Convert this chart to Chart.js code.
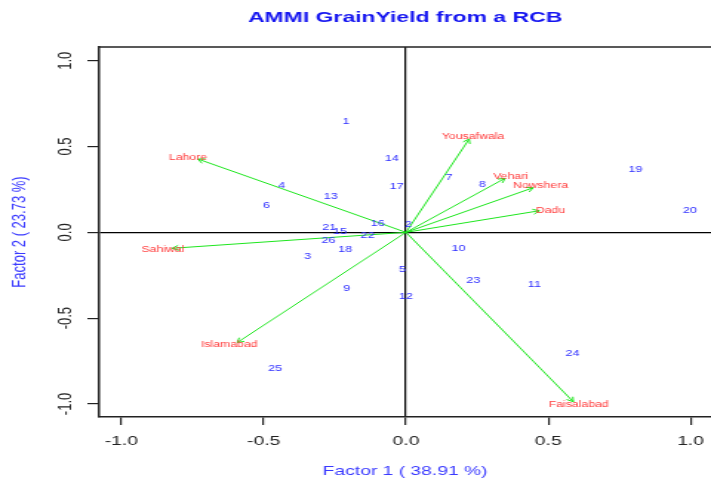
<!DOCTYPE html>
<html><head><meta charset="utf-8">
<script src="https://cdn.jsdelivr.net/npm/chart.js@4/dist/chart.umd.min.js"></script>
<style>html,body{margin:0;padding:0;overflow:hidden;background:#fff}canvas{display:block}</style>
</head><body>
<canvas id="c" width="480" height="480" style="width:711px;height:480px"></canvas>
<script>
// Genotype scores (Factor 1, Factor 2)
const genotypes = ['1','2','3','4','5','6','7','8','9','10','11','12','13','14','15','16','17','18','19','20','21','22','23','24','25','26'];
const genoF1 = [-0.211,0.008,-0.346,-0.437,-0.013,-0.490,0.151,0.268,-0.208,0.184,0.451,0.000,-0.265,-0.050,-0.232,-0.099,-0.033,-0.214,0.807,0.998,-0.270,-0.135,0.237,0.585,-0.460,-0.272];
const genoF2 = [0.648,0.043,-0.142,0.270,-0.216,0.153,0.321,0.280,-0.326,-0.093,-0.305,-0.375,0.207,0.431,0.003,0.052,0.266,-0.103,0.363,0.128,0.029,-0.022,-0.282,-0.705,-0.793,-0.049];
// Environment scores (label positions) and arrow tips
const sites = ['Lahore','Sahiwal','Islamabad','Faisalabad','Yousafwala','Vehari','Nowshera','Dadu'];
const siteF1 = [-0.766,-0.854,-0.621,0.607,0.236,0.368,0.473,0.508];
const siteF2 = [0.433,-0.103,-0.657,-1.006,0.557,0.324,0.270,0.124];
const arrowF1 = [-0.731,-0.822,-0.593,0.588,0.222,0.348,0.447,0.469];
const arrowF2 = [0.427,-0.093,-0.642,-0.987,0.544,0.315,0.260,0.126];
// Ticks
const xTicks = [-1,-0.5,0,0.5,1];
const xTickLabels = ['-1.0','-0.5','0.0','0.5','1.0'];
const yTicks = [-1,-0.5,0,0.5,1];
const yTickLabels = ['-1.0','-0.5','0.0','0.5','1.0'];

const FONT = '"Liberation Sans", Arial, sans-serif';
const AXIS = '#222';
const GREEN = '#1ee61e';
const GENO_COL = '#3030ff';
const SITE_COL = '#ff3a3a';

const datasets = [{
  label: 'Genotypes',
  data: genotypes.map((g, i) => ({x: genoF1[i], y: genoF2[i]})),
  pointRadius: 0, showLine: false
}, {
  label: 'Sites',
  data: sites.map((s, i) => ({x: siteF1[i], y: siteF2[i]})),
  pointRadius: 0, showLine: false
}];
sites.forEach((s, i) => {
  datasets.push({
    label: 'arrow ' + s,
    data: [{x: 0, y: 0}, {x: arrowF1[i], y: arrowF2[i]}],
    showLine: true, borderColor: GREEN, borderWidth: 1, pointRadius: 0, fill: false
  });
});

const gridCfg = {
  color: c => (c.tick && c.tick.value === 0) ? '#000' : 'rgba(0,0,0,0)',
  tickColor: AXIS, tickLength: 8, lineWidth: 1.2, drawOnChartArea: true, drawTicks: true
};

const overlay = {
  id: 'overlay',
  afterDatasetsDraw(chart) {
    const ctx = chart.ctx;
    const a = chart.chartArea;
    ctx.save();
    ctx.beginPath(); ctx.rect(a.left, a.top, a.right - a.left, a.bottom - a.top); ctx.clip();
    // arrow heads
    sites.forEach((s, i) => {
      const meta = chart.getDatasetMeta(2 + i);
      const p0 = meta.data[0], p1 = meta.data[1];
      const ang = Math.atan2(p1.y - p0.y, p1.x - p0.x);
      const L = 5, h = Math.PI / 6;
      ctx.strokeStyle = GREEN; ctx.lineWidth = 1;
      ctx.beginPath();
      ctx.moveTo(p1.x - L * Math.cos(ang - h), p1.y - L * Math.sin(ang - h));
      ctx.lineTo(p1.x, p1.y);
      ctx.lineTo(p1.x - L * Math.cos(ang + h), p1.y - L * Math.sin(ang + h));
      ctx.stroke();
    });
    ctx.textAlign = 'center'; ctx.textBaseline = 'middle';
    // genotype labels
    ctx.font = '8.6px ' + FONT; ctx.fillStyle = GENO_COL;
    chart.getDatasetMeta(0).data.forEach((el, i) => ctx.fillText(genotypes[i], el.x, el.y));
    // site labels
    ctx.font = '8.3px ' + FONT; ctx.fillStyle = SITE_COL;
    chart.getDatasetMeta(1).data.forEach((el, i) => ctx.fillText(sites[i], el.x, el.y));
    ctx.restore();
  },
  afterDraw(chart) {
    const ctx = chart.ctx, a = chart.chartArea, ys = chart.scales.y;
    ctx.save();
    ctx.strokeStyle = AXIS; ctx.lineWidth = 1.5;
    ctx.beginPath(); ctx.moveTo(a.left, a.top); ctx.lineTo(a.right, a.top); ctx.stroke();
    ctx.font = '13px ' + FONT; ctx.fillStyle = AXIS;
    ctx.textAlign = 'center'; ctx.textBaseline = 'middle';
    yTicks.forEach((v, i) => {
      const py = ys.getPixelForValue(v);
      ctx.save(); ctx.translate(44, py); ctx.rotate(-Math.PI / 2);
      ctx.fillText(yTickLabels[i], 0, 0); ctx.restore();
    });
    ctx.restore();
  }
};

new Chart(document.getElementById('c'), {
  type: 'scatter',
  data: {datasets},
  options: {
    responsive: false, animation: false, events: [],
    layout: {padding: 0},
    plugins: {
      legend: {display: false}, tooltip: {enabled: false},
      title: {display: true, text: 'AMMI GrainYield from a RCB', fullSize: false,
        color: '#1414f0', font: {family: FONT, size: 15.5, weight: 'bold'},
        padding: {top: 8.7, bottom: 19.7}}
    },
    scales: {
      x: {
        type: 'linear', min: -1.078, max: 1.072,
        afterBuildTicks: s => { s.ticks = xTicks.map(v => ({value: v})); },
        afterFit: s => { s.height = 63; s.paddingLeft = 0; s.paddingRight = 0; },
        ticks: {callback: v => xTickLabels[xTicks.indexOf(v)], color: AXIS, font: {family: FONT, size: 13}, padding: 9, maxRotation: 0, autoSkip: false},
        grid: gridCfg,
        border: {display: true, color: AXIS, width: 1.5},
        title: {display: true, text: 'Factor 1 ( 38.91 %)', color: '#3a3aff', font: {family: FONT, size: 13}, padding: {top: 0, bottom: 1}}
      },
      y: {
        type: 'linear', min: -1.076, max: 1.080,
        afterBuildTicks: s => { s.ticks = yTicks.map(v => ({value: v})); },
        afterFit: s => { s.width = 67; s.paddingTop = 0; s.paddingBottom = 0; },
        ticks: {display: false},
        grid: gridCfg,
        border: {display: true, color: AXIS, width: 1.5},
        title: {display: true, text: 'Factor 2 ( 23.73 %)', color: '#3a3aff', font: {family: FONT, size: 13}, padding: {top: 6, bottom: 0}}
      }
    }
  },
  plugins: [overlay]
});
</script>
</body></html>
